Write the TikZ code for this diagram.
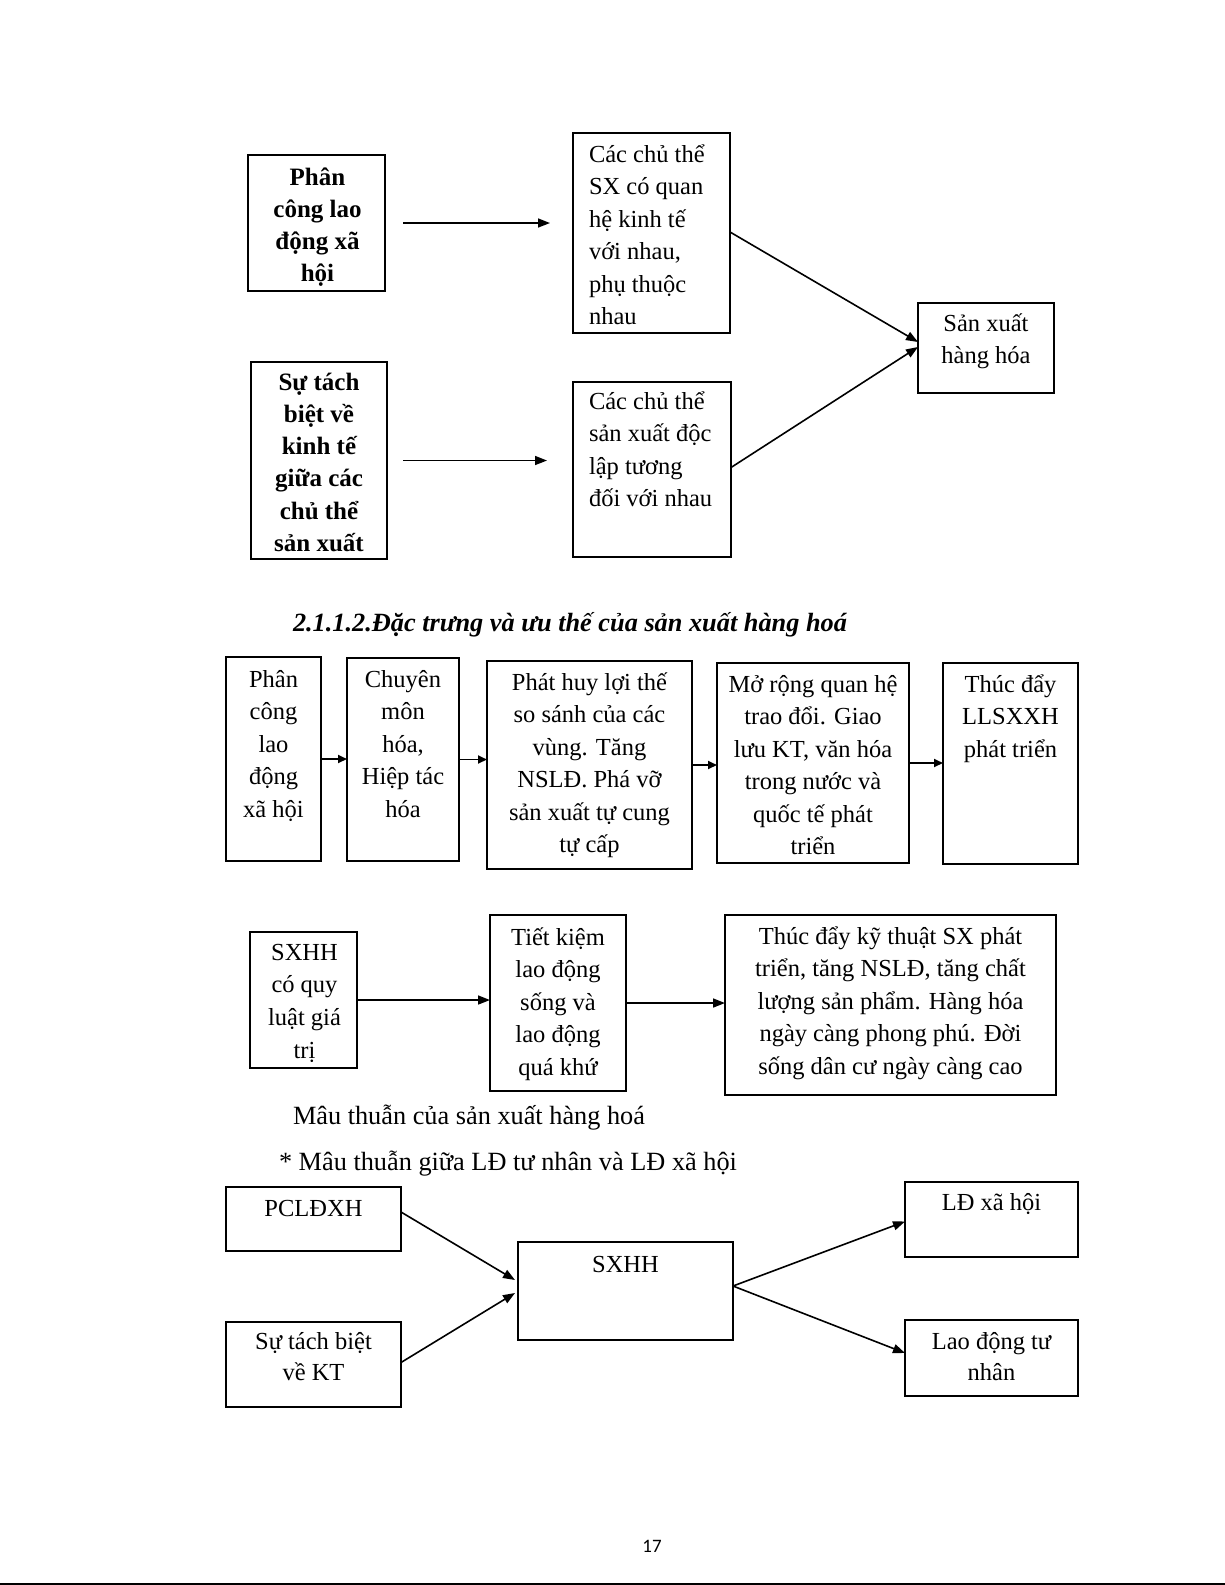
\documentclass[tikz,border=0pt]{standalone}
\usepackage{fontspec}
\setmainfont{Liberation Serif}
\newfontfamily\pnfont{Carlito}
\usetikzlibrary{arrows.meta,calc}
\newcommand\fs{\rule{0pt}{24pt}}
\newcommand\mkbox[5]{\node[box,minimum width=#3pt,minimum height=#4pt] (#5) at (#1,#2) {};}
\begin{document}
\begin{tikzpicture}[x=1pt,y=-1pt,
  box/.style={draw,line width=1.3pt,inner sep=0pt,outer sep=0pt},
  txt/.style={inner sep=0pt,outer sep=0pt,anchor=north,align=center,font=\fontsize{24.5}{32.5}\selectfont},
  btxt/.style={txt,font=\fontsize{25}{32.3}\selectfont\bfseries},
  ltxt/.style={txt,anchor=north west,align=left},
  plain/.style={inner sep=0pt,outer sep=0pt,anchor=base west,font=\fontsize{26.3}{30}\selectfont},
  arr/.style={line width=1.6pt,-{Triangle[length=12pt,width=9pt]}},
  arrs/.style={line width=1.8pt,-{Triangle[length=9pt,width=8pt]}}]
\useasboundingbox (0,0) rectangle (1225,1585);
% ---- top section
\mkbox{316.5}{223}{137}{136}{A}
\mkbox{319}{460.5}{136}{197}{B}
\mkbox{651.5}{233}{157}{200}{C}
\mkbox{652}{469.5}{158}{175}{D}
\mkbox{986}{348}{136}{90}{E}
\node[btxt] (tA) at (317.5,161) {\fs Phân\\công lao\\động xã\\hội};
\node[btxt] (tB) at (319,366) {\fs Sự tách\\biệt về\\kinh tế\\giữa các\\chủ thể\\sản xuất};
\node[ltxt] (tC) at (589,138) {\fs Các chủ thể\\SX có quan\\hệ kinh tế\\với nhau,\\phụ thuộc\\nhau};
\node[ltxt] (tD) at (589,385) {\fs Các chủ thể\\sản xuất độc\\lập tương\\đối với nhau};
\node[txt] (tE) at (986,307) {\fs Sản xuất\\hàng hóa};
\draw[arr,shorten <=18pt,shorten >=23pt] (A.east) -- (A.east -| C.west);
\draw[arr,shorten <=16pt,shorten >=26pt] (B.east) -- (B.east -| D.west);
\draw[arr] ($(C.north east)+(0,99)$) -- ([yshift=6pt]E.west);
\draw[arr] ([yshift=2pt]D.east) -- ([yshift=1pt]E.west);
% ---- heading
\node[plain,font=\fontsize{26.3}{30}\selectfont\bfseries\itshape] (head) at (293,631) {2.1.1.2.Đặc trưng và ưu thế của sản xuất hàng hoá};
% ---- row 2
\mkbox{273.5}{759}{95}{204}{R1}
\mkbox{403}{759.5}{112}{203}{R2}
\mkbox{589.5}{765}{205}{208}{R3}
\mkbox{813}{763}{192}{200}{R4}
\mkbox{1010.5}{763.5}{135}{201}{R5}
\node[txt] (tR1) at (273.5,663) {\fs Phân\\công\\lao\\động\\xã hội};
\node[txt] (tR2) at (403,663) {\fs Chuyên\\môn\\hóa,\\Hiệp tác\\hóa};
\node[txt] (tR3) at (589.5,666) {\fs Phát huy lợi thế\\so sánh của các\\vùng. Tăng\\NSLĐ. Phá vỡ\\sản xuất tự cung\\tự cấp};
\node[txt] (tR4) at (813,668) {\fs Mở rộng quan hệ\\trao đổi. Giao\\lưu KT, văn hóa\\trong nước và\\quốc tế phát\\triển};
\node[txt] (tR5) at (1010.5,668) {\fs Thúc đẩy\\LLSXXH\\phát triển};
\draw[arrs] (R1.east) -- (R1.east -| R2.west);
\draw[arrs] (R2.east) -- (R2.east -| R3.west);
\draw[arrs] (R3.east) -- (R3.east -| R4.west);
\draw[arrs] (R4.east) -- (R4.east -| R5.west);
% ---- row 3
\mkbox{303.5}{1000}{107}{136}{S1}
\mkbox{558}{1003}{136}{176}{S2}
\mkbox{890.5}{1005}{331}{180}{S3}
\node[txt,font=\fontsize{24.5}{32.7}\selectfont] (tS1) at (304.5,936) {\fs SXHH\\có quy\\luật giá\\trị};
\node[txt] (tS2) at (558,921) {\fs Tiết kiệm\\lao động\\sống và\\lao động\\quá khứ};
\node[txt] (tS3) at (890.5,920) {\fs Thúc đẩy kỹ thuật SX phát\\triển, tăng NSLĐ, tăng chất\\lượng sản phẩm. Hàng hóa\\ngày càng phong phú. Đời\\sống dân cư ngày càng cao};
\draw[arr] (S1.east) -- (S1.east -| S2.west);
\draw[arr] (S2.east) -- (S2.east -| S3.west);
% ---- texts
\node[plain] (t1) at (293,1124) {Mâu thuẫn của sản xuất hàng hoá};
\node[plain] (t2) at (279,1170) {* Mâu thuẫn giữa LĐ tư nhân và LĐ xã hội};
% ---- bottom section
\mkbox{313.5}{1219}{175}{64}{P1}
\mkbox{313.5}{1364.5}{175}{85}{P2}
\mkbox{625.5}{1291}{215}{98}{P3}
\mkbox{991.5}{1219.5}{173}{75}{P4}
\mkbox{991.5}{1358}{173}{76}{P5}
\node[txt] (tP1) at (313.5,1192) {\fs PCLĐXH};
\node[txt,font=\fontsize{24.5}{31.5}\selectfont] (tP2) at (313.5,1325) {\fs Sự tách biệt\\về KT};
\node[txt] (tP3) at (625.5,1248) {\fs SXHH};
\node[txt] (tP4) at (991.5,1186) {\fs LĐ xã hội};
\node[txt,font=\fontsize{24.5}{31.5}\selectfont] (tP5) at (991.5,1325) {\fs Lao động tư\\nhân};
\draw[arr] ([yshift=7pt]P1.east) -- ([xshift=-3pt,yshift=11pt]P3.west);
\draw[arr] ([yshift=2pt]P2.east) -- ([xshift=-3pt,yshift=-2pt]P3.west);
\draw[arr] ([yshift=5pt]P3.east) -- ([yshift=-2pt]P4.west);
\draw[arr] ([yshift=5pt]P3.east) -- ([yshift=5pt]P5.west);
% ---- page number and rule
\node[inner sep=0pt,anchor=base,font=\pnfont\fontsize{19}{20}\selectfont] (pn) at (652,1552) {17};
\draw[line width=2pt] (0,1583.5) -- (1225,1583.5);
\end{tikzpicture}
\end{document}
